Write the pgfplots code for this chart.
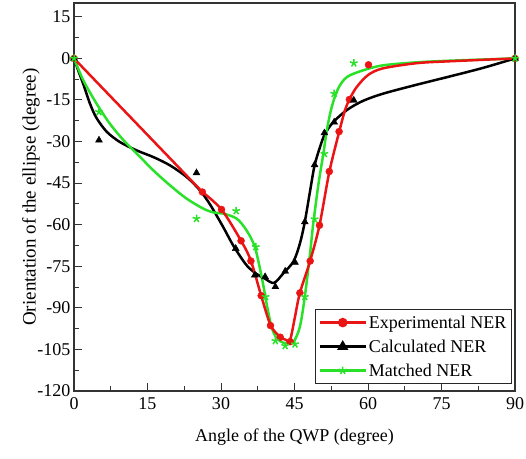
\documentclass[border=0pt]{standalone}
\usepackage{fontspec}
\setmainfont{Liberation Serif}
\usepackage{pgfplots}
\pgfplotsset{compat=1.18}
\definecolor{myred}{RGB}{235,20,20}
\definecolor{mygreen}{RGB}{40,225,40}
\begin{document}
\begin{tikzpicture}[font=\fontsize{18}{21}\selectfont]
\begin{axis}[
  scale only axis, width=441pt, height=388pt,
  xmin=0, xmax=90, ymin=-120, ymax=20,
  xtick={0,15,...,90}, ytick={-120,-105,...,15},
  minor tick num=1,
  tick pos=left, tick align=inside,
  major tick length=8pt, minor tick length=5pt,
  axis line style={line width=1.1pt, black!80},
  every tick/.style={line width=1pt, black!80},
  /pgf/number format/assume math mode=true,
  xticklabel style={yshift=-3pt},
  xlabel={Angle of the QWP (degree)},
  ylabel={\fontsize{19}{22}\selectfont Orientation of the ellipse (degree)},
  xlabel style={yshift=-12pt},
  ylabel style={yshift=-9pt},
  legend style={at={(0.993,0.018)}, anchor=south east, draw=black!85, line width=0.9pt,
    row sep=6pt, inner xsep=3pt, inner ysep=4pt, font=\fontsize{18}{21}\selectfont},
  legend cell align=left,
  legend image code/.code={\draw[#1] (0pt,0pt) -- (46pt,0pt); \draw[#1, mark repeat=1] plot coordinates {(23pt,0pt)};},
]
\addlegendimage{myred, line width=2.5pt, mark=*, mark size=3.5pt}
\addlegendentry{Experimental NER}
\addlegendimage{black, line width=2.5pt, mark=triangle*, mark size=4pt}
\addlegendentry{Calculated NER}
\addlegendimage{mygreen, line width=2.5pt, mark=star, mark size=4pt, mark options={line width=1.5pt}}
\addlegendentry{Matched NER}

% curves
\addplot[black, line width=2.5pt, smooth, no marks, forget plot] coordinates {
(0,0)(1,-5)(1.9,-9.3)(3.3,-16.5)(4.6,-21.5)(6.7,-26.5)(9.4,-30.2)(12.8,-33.2)(16.2,-35.6)(19.6,-38.6)(23,-42.8)(25.7,-47.6)(27.8,-52.8)(30.5,-61)(32.5,-67.5)(35.2,-74.6)(37.3,-77.8)(39,-79.5)(40.8,-81)(42.7,-77.6)(44.8,-73.2)(46.1,-66.8)(47.1,-59)(48.2,-47.6)(49.1,-38.6)(50.2,-32)(51.2,-27.3)(52.9,-23)(55.7,-18.6)(59,-15.3)(63.1,-12.7)(69.9,-9.5)(76.7,-6.5)(83.5,-3.4)(90,0)};
\addplot[mygreen, line width=2.5pt, smooth, no marks, forget plot] coordinates {
(0,0)(1.9,-7.9)(4.6,-16.3)(7.3,-23.5)(10.1,-29.5)(12.8,-34.3)(16.2,-40.4)(19.6,-45.8)(23,-50.6)(26.4,-54.2)(28.5,-55.6)(30.5,-56)(33.2,-57.8)(35.2,-62)(36.9,-68)(38.3,-78.8)(39.3,-88.4)(40.3,-96.8)(41.4,-101)(43.1,-102.8)(44.8,-102.2)(46.1,-96.8)(47.1,-86)(48.2,-70)(48.8,-60)(49.9,-45.2)(50.9,-34.3)(51.6,-25.9)(52.6,-17.5)(53.9,-10.9)(55.7,-6.7)(59,-4.3)(63,-2.5)(70,-1.4)(77,-0.8)(90,0)};
\addplot[myred, line width=2.5pt, no marks, forget plot] coordinates {(0,0)(26.2,-48.2)};
\addplot[myred, line width=2.5pt, smooth, no marks, forget plot] coordinates {
(26.2,-48.2)(30.1,-54.5)(34.1,-65.8)(36.1,-73)(38.2,-85.6)(40.1,-96.2)(42,-100.4)(43.2,-101.5)(44.1,-101.6)(45.1,-93.2)(46.1,-84.6)(48.2,-73)(50.1,-60.2)(52.1,-41)(54.1,-26.6)(55.3,-18.7)(56.3,-14.5)(57.7,-10.3)(60,-6)(63,-3.6)(70,-1.7)(77,-1)(90,0)};

% measured points
\addplot[only marks, mark=*, mark size=3.5pt, myred, forget plot] coordinates {
(0,0)(26.2,-48.2)(30.1,-54.5)(34.1,-65.8)(36.1,-73.1)(38.2,-85.6)(40.1,-96.4)(42.1,-100.6)(44.1,-102.2)(46.1,-84.6)(48.2,-73.1)(50.1,-60.2)(52.1,-40.8)(54.1,-26.4)(56.2,-14.8)(60.1,-2.3)(90,0)};
\addplot[only marks, mark=triangle*, mark size=4pt, black, forget plot] coordinates {
(0,0)(5.1,-29.5)(25,-41.3)(33,-68.6)(36.9,-78.2)(39,-78.8)(41.1,-82.4)(43.1,-76.8)(45.1,-73.6)(47.1,-59)(49.1,-38.4)(51.1,-26.9)(53.1,-23)(57.1,-15.1)(90,0)};
\addplot[only marks, mark=star, mark size=4pt, mygreen, mark options={line width=1.5pt}, forget plot] coordinates {
(0,0)(5.1,-19.3)(25,-57.8)(33.1,-55)(37.1,-68)(39.1,-86)(41.1,-101.9)(43.1,-103.7)(45.1,-103.1)(47.1,-86)(49.1,-58)(51.1,-34.4)(53.1,-12.7)(57.1,-1.7)(90,0)};
\coordinate (sw) at (rel axis cs:0,0);
\coordinate (ne) at (rel axis cs:1,1);
\end{axis}
\pgfresetboundingbox
\path ([shift={(-74pt,-67pt)}]sw) rectangle ([shift={(11pt,3pt)}]ne);
\end{tikzpicture}
\end{document}
